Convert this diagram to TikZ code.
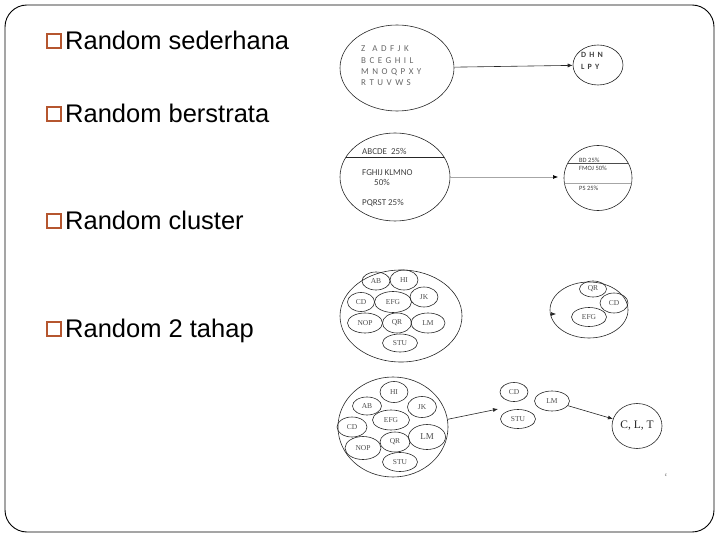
\documentclass[tikz,border=0pt]{standalone}
\usepackage{fontspec}
\setmainfont{Liberation Sans}
\newfontfamily\calib{Carlito}
\newfontfamily\calibsp{Carlito}[LetterSpace=16]
\newfontfamily\tms{Liberation Serif}
\usetikzlibrary{shapes.geometric,arrows.meta}
\definecolor{bul}{HTML}{B5562F}
\begin{document}
\begin{tikzpicture}[x=1pt,y=-1pt,
  bulbox/.style={draw=bul,line width=2pt,minimum size=14pt,inner sep=0pt},
  lbl/.style={font=\fontsize{25.5}{30}\selectfont,inner sep=0pt,anchor=base west},
  ov/.style={draw=black!85,ellipse,inner sep=0pt,line width=0.6pt},
  tx/.style={inner sep=0pt,anchor=base west},
  sm/.style={ov,font=\tms\fontsize{7.5}{8}\selectfont,text=black!70},
  arr/.style={draw=black!85,line width=0.6pt,-{Latex[length=5pt,width=4pt]}}]
\useasboundingbox (0,0) rectangle (720,540);
\draw[line width=0.9pt,rounded corners=22pt] (5,5) rectangle (714,532);
% bullets
\node[bulbox] (b1) at (54,41) {};
\node[lbl] (t1) at (65,49.5) {Random sederhana};
\node[bulbox] (b2) at (54,114) {};
\node[lbl] (t2) at (65,122.5) {Random berstrata};
\node[bulbox] (b3) at (54,221) {};
\node[lbl] (t3) at (65,229.5) {Random cluster};
\node[bulbox] (b4) at (54,329) {};
\node[lbl] (t4) at (65,337.5) {Random 2 tahap};
% diagram 1
\node[ov,minimum width=114pt,minimum height=86pt] (s1) at (397,68) {};
\node[inner sep=0pt,anchor=west,align=left,font=\calibsp\fontsize{9}{11.3}\selectfont,text=black!60] (s1t) at (361,66)
  {Z\ \ A D F J K\\B C E G H I L\\M N O Q P X Y\\R T U V W S};
\node[ov,minimum width=50pt,minimum height=40pt] (s2) at (598,65) {};
\node[inner sep=0pt,align=left,font=\calibsp\bfseries\fontsize{8}{12}\selectfont,text=black!75] (s2t) at (592,61) {D H N\\L P Y};
\draw[arr] (s1) -- (s2);
% diagram 2
\node[ov,minimum width=110pt,minimum height=88pt] (r1) at (395,177) {};
\begin{scope}
  \clip (395,177) ellipse (55pt and 44pt);
  \draw[black!85,line width=0.6pt] (330,157) -- (460,157);
\end{scope}
\begin{scope}[every node/.style={tx,font=\calib\fontsize{9}{10}\selectfont,text=black!75}]
\node (r1a) at (362,155) {ABCDE\ \ 25\%};
\node (r1b) at (362,176) {FGHIJ KLMNO};
\node (r1c) at (374,186) {50\%};
\node (r1d) at (362,206) {PQRST 25\%};
\end{scope}
\node[ov,minimum width=68pt,minimum height=65pt] (r2) at (598,178) {};
\begin{scope}
  \clip (598,178) ellipse (34pt and 32.5pt);
  \draw[black!70,line width=0.6pt] (560,163) -- (640,163);
  \draw[black!35,line width=0.5pt] (560,183) -- (640,183);
\end{scope}
\begin{scope}[every node/.style={tx,font=\calib\fontsize{6.5}{7}\selectfont,text=black!75}]
\node (r2a) at (579,163) {BD 25\%};
\node (r2b) at (579,170.5) {FMOJ 50\%};
\node (r2c) at (579,191) {PS 25\%};
\end{scope}
\coordinate (r2in) at (558,177);
\draw[black!35,line width=0.6pt,-{Latex[length=5pt,width=4pt,black]}] (r1.east) -- (r2in);
% diagram 3
\node[ov,minimum width=122pt,minimum height=92pt] (c1) at (401,316) {};
\node[sm,minimum width=28pt,minimum height=18pt] (c1ab) at (376,281) {AB};
\node[sm,minimum width=28pt,minimum height=20pt] (c1hi) at (404,280) {HI};
\node[sm,minimum width=28pt,minimum height=20pt] (c1jk) at (424,297) {JK};
\node[sm,minimum width=27pt,minimum height=19pt] (c1cd) at (361,302) {CD};
\node[sm,minimum width=37pt,minimum height=21pt] (c1efg) at (393,302) {EFG};
\node[sm,minimum width=35pt,minimum height=20pt] (c1nop) at (365,323) {NOP};
\node[sm,minimum width=29pt,minimum height=20pt] (c1qr) at (397,323) {QR};
\node[sm,minimum width=34pt,minimum height=20pt] (c1lm) at (428,323) {LM};
\node[sm,minimum width=35pt,minimum height=18pt] (c1stu) at (400,343) {STU};
\node[ov,minimum width=78pt,minimum height=56pt] (c2) at (589,310) {};
\node[sm,minimum width=27pt,minimum height=16pt] (c2qr) at (593,289) {QR};
\node[sm,minimum width=28pt,minimum height=20pt] (c2cd) at (614,303) {CD};
\node[sm,minimum width=35pt,minimum height=19pt] (c2efg) at (589,317) {EFG};
\coordinate (c2a) at (551,314);
\coordinate (c2b) at (556,314);
\draw[arr] (c2a) -- (c2b);
% diagram 4
\node[ov,minimum width=110pt,minimum height=100pt] (d1) at (393,427) {};
\node[sm,minimum width=28pt,minimum height=21pt] (d1hi) at (394,392) {HI};
\node[sm,minimum width=29pt,minimum height=18pt] (d1ab) at (367,406) {AB};
\node[sm,minimum width=29pt,minimum height=21pt] (d1jk) at (422,407) {JK};
\node[sm,minimum width=37pt,minimum height=20pt] (d1efg) at (391,420) {EFG};
\node[sm,minimum width=30pt,minimum height=20pt] (d1cd) at (352,427) {CD};
\node[sm,minimum width=37pt,minimum height=25pt,font=\tms\fontsize{9}{10}\selectfont] (d1lm) at (427,437) {LM};
\node[sm,minimum width=30pt,minimum height=20pt] (d1qr) at (395,442) {QR};
\node[sm,minimum width=36pt,minimum height=23pt] (d1nop) at (363,448) {NOP};
\node[sm,minimum width=35pt,minimum height=19pt] (d1stu) at (400,462) {STU};
\node[sm,minimum width=28pt,minimum height=19pt] (d2cd) at (514,392) {CD};
\node[sm,minimum width=35pt,minimum height=19pt] (d2stu) at (518,419) {STU};
\node[sm,minimum width=35pt,minimum height=20pt] (d2lm) at (552,401) {LM};
\node[ov,minimum width=50pt,minimum height=45pt,font=\tms\fontsize{11.5}{12}\selectfont,text=black!85] (d2clt) at (637,426) {C, L, T};
\coordinate (d2in) at (498,409);
\draw[arr] (d1.8) -- (d2in);
\draw[arr] (d2lm) -- (d2clt);
\node[inner sep=0pt,font=\tms\fontsize{5}{6}\selectfont,text=black!70] (pg) at (666,475) {c};
\end{tikzpicture}
\end{document}
